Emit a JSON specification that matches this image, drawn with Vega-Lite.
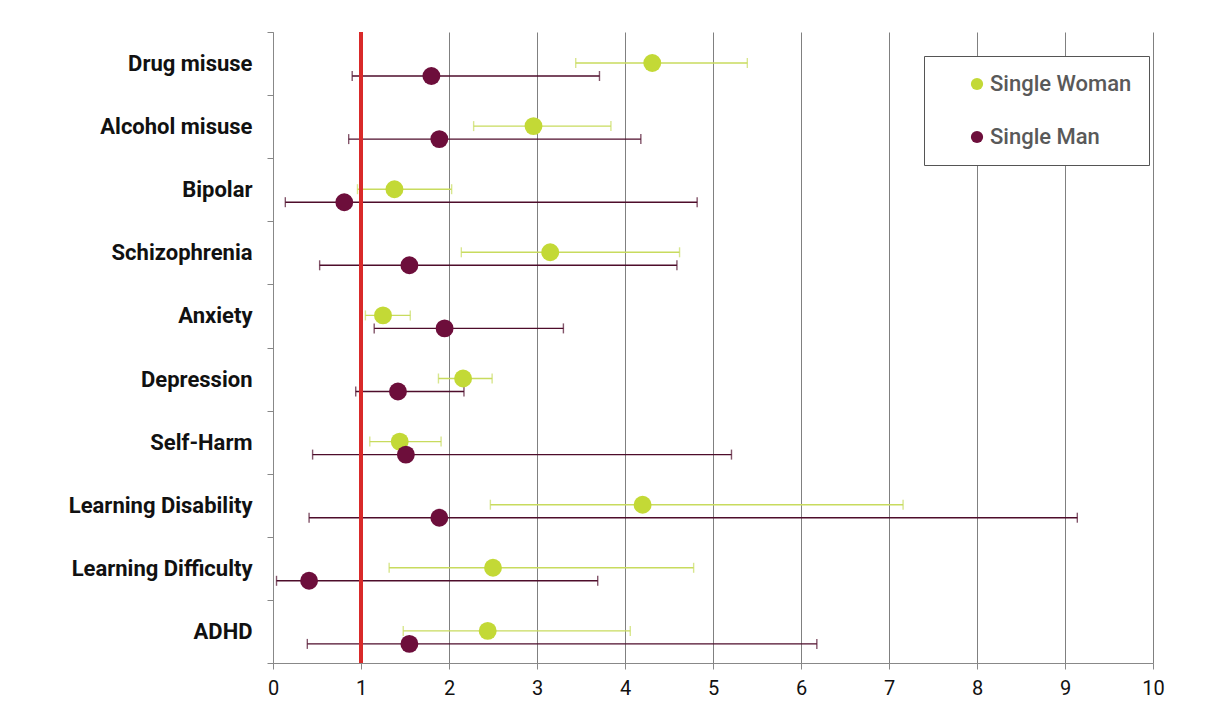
{
  "$schema": "https://vega.github.io/schema/vega-lite/v6.json",
  "width": 880,
  "height": 631,
  "autosize": {"type": "none"},
  "padding": {"left": 273, "top": 32, "right": 57, "bottom": 52},
  "background": "white",
  "config": {"view": {"stroke": null}, "font": "Roboto"},
  "data": {
    "values": [
      {"condition": "Drug misuse", "series": "Single Woman", "est": 4.31, "lo": 3.44, "hi": 5.39},
      {"condition": "Drug misuse", "series": "Single Man", "est": 1.80, "lo": 0.90, "hi": 3.71},
      {"condition": "Alcohol misuse", "series": "Single Woman", "est": 2.96, "lo": 2.28, "hi": 3.84},
      {"condition": "Alcohol misuse", "series": "Single Man", "est": 1.89, "lo": 0.86, "hi": 4.18},
      {"condition": "Bipolar", "series": "Single Woman", "est": 1.38, "lo": 0.96, "hi": 2.03},
      {"condition": "Bipolar", "series": "Single Man", "est": 0.81, "lo": 0.14, "hi": 4.82},
      {"condition": "Schizophrenia", "series": "Single Woman", "est": 3.15, "lo": 2.14, "hi": 4.62},
      {"condition": "Schizophrenia", "series": "Single Man", "est": 1.55, "lo": 0.53, "hi": 4.59},
      {"condition": "Anxiety", "series": "Single Woman", "est": 1.25, "lo": 1.05, "hi": 1.56},
      {"condition": "Anxiety", "series": "Single Man", "est": 1.95, "lo": 1.15, "hi": 3.30},
      {"condition": "Depression", "series": "Single Woman", "est": 2.16, "lo": 1.88, "hi": 2.49},
      {"condition": "Depression", "series": "Single Man", "est": 1.42, "lo": 0.94, "hi": 2.17},
      {"condition": "Self-Harm", "series": "Single Woman", "est": 1.44, "lo": 1.10, "hi": 1.91},
      {"condition": "Self-Harm", "series": "Single Man", "est": 1.51, "lo": 0.45, "hi": 5.21},
      {"condition": "Learning Disability", "series": "Single Woman", "est": 4.20, "lo": 2.47, "hi": 7.16},
      {"condition": "Learning Disability", "series": "Single Man", "est": 1.89, "lo": 0.41, "hi": 9.14},
      {"condition": "Learning Difficulty", "series": "Single Woman", "est": 2.50, "lo": 1.32, "hi": 4.78},
      {"condition": "Learning Difficulty", "series": "Single Man", "est": 0.41, "lo": 0.04, "hi": 3.69},
      {"condition": "ADHD", "series": "Single Woman", "est": 2.44, "lo": 1.48, "hi": 4.06},
      {"condition": "ADHD", "series": "Single Man", "est": 1.55, "lo": 0.39, "hi": 6.18}
    ]
  },
  "encoding": {
    "y": {
      "field": "condition",
      "type": "nominal",
      "sort": ["Drug misuse", "Alcohol misuse", "Bipolar", "Schizophrenia", "Anxiety", "Depression", "Self-Harm", "Learning Disability", "Learning Difficulty", "ADHD"],
      "scale": {"paddingInner": 0, "paddingOuter": 0},
      "axis": {
        "title": null,
        "tickBand": "extent",
        "labelFontSize": 22,
        "labelFontWeight": "bold",
        "labelColor": "#111111",
        "labelPadding": 15,
        "labelLimit": 300,
        "tickSize": 6,
        "tickColor": "#888888",
        "domainColor": "#888888",
        "grid": false
      }
    },
    "yOffset": {
      "field": "series",
      "type": "nominal",
      "scale": {"type": "point", "domain": ["Single Woman", "Single Man"], "range": [31, 44], "padding": 0}
    }
  },
  "layer": [
    {
      "mark": {"type": "rule", "strokeWidth": 1.4},
      "encoding": {
        "x": {
          "field": "lo",
          "type": "quantitative",
          "scale": {"domain": [0, 10], "nice": false},
          "axis": {
            "title": null,
            "values": [0, 1, 2, 3, 4, 5, 6, 7, 8, 9, 10],
            "format": "d",
            "grid": true,
            "gridColor": "#808080",
            "gridWidth": 1,
            "tickSize": 6,
            "tickColor": "#888888",
            "domainColor": "#888888",
            "labelFontSize": 20,
            "labelColor": "#111111",
            "labelPadding": 9,
            "labelFlush": false
          }
        },
        "x2": {"field": "hi"},
        "color": {"field": "series", "type": "nominal", "scale": {"domain": ["Single Woman", "Single Man"], "range": ["#c8db5e", "#4e0d2b"]}, "legend": null}
      }
    },
    {
      "mark": {"type": "tick", "orient": "vertical", "size": 10, "thickness": 1.4},
      "encoding": {
        "x": {"field": "lo", "type": "quantitative"},
        "color": {"field": "series", "type": "nominal", "scale": {"domain": ["Single Woman", "Single Man"], "range": ["#c8db5e", "#4e0d2b"]}, "legend": null}
      }
    },
    {
      "mark": {"type": "tick", "orient": "vertical", "size": 10, "thickness": 1.4},
      "encoding": {
        "x": {"field": "hi", "type": "quantitative"},
        "color": {"field": "series", "type": "nominal", "scale": {"domain": ["Single Woman", "Single Man"], "range": ["#c8db5e", "#4e0d2b"]}, "legend": null}
      }
    },
    {
      "mark": {"type": "rule", "color": "#d92a2a", "strokeWidth": 3.5},
      "encoding": {"x": {"datum": 1, "type": "quantitative"}, "y": null, "yOffset": null}
    },
    {
      "mark": {"type": "point", "filled": true, "opacity": 1, "size": 320, "shape": "circle"},
      "encoding": {
        "x": {"field": "est", "type": "quantitative"},
        "color": {
          "field": "series",
          "type": "nominal",
          "scale": {"domain": ["Single Woman", "Single Man"], "range": ["#c3d936", "#6d0e3b"]},
          "legend": {
            "title": null,
            "orient": "none",
            "legendX": 651,
            "legendY": 24,
            "strokeColor": "#555555",
            "fillColor": "white",
            "padding": 17,
            "symbolOffset": 25,
            "symbolType": "circle",
            "symbolSize": 150,
            "labelFontSize": 22,
            "labelFontWeight": 500,
            "labelColor": "#595959",
            "labelOffset": 2,
            "labelLimit": 300,
            "rowPadding": 31
          }
        }
      }
    }
  ],
  "resolve": {"scale": {"color": "independent"}}
}
